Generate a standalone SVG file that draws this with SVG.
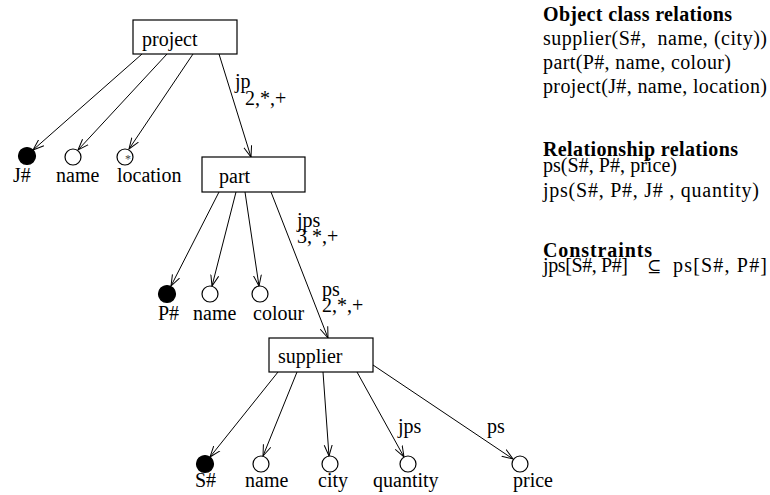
<svg xmlns="http://www.w3.org/2000/svg" width="770" height="495" viewBox="0 0 770 495" font-family="'Liberation Serif', 'DejaVu Serif', 'Times New Roman', serif" font-size="20">
  <style>
    text { font-family: 'Liberation Serif', 'Times New Roman', serif; font-size: 20px; fill: #000; }
    .b { font-weight: bold; }
    .box { fill: #fff; stroke: #000; stroke-width: 1.2; }
    .attr { fill: #fff; stroke: #000; stroke-width: 1.2; }
    .key { fill: #000; stroke: #000; stroke-width: 1.2; }
    .edge { stroke: #000; stroke-width: 1; fill: none; marker-end: url(#arrow); }
  </style>
  <defs>
    <marker id="arrow" markerWidth="12" markerHeight="10" refX="11" refY="5" orient="auto" markerUnits="userSpaceOnUse">
      <path d="M0,1 L11,5 L0,9" fill="none" stroke="#000" stroke-width="1"/>
    </marker>
  </defs>

  <rect width="770" height="495" fill="#fff"/>

  <!-- connectors -->
  <g id="connectors">
    <line class="edge" x1="142" y1="54" x2="33" y2="150"/>
    <line class="edge" x1="167" y1="54" x2="78" y2="150"/>
    <line class="edge" x1="193" y1="54" x2="129" y2="149"/>
    <line class="edge" x1="219" y1="54" x2="251" y2="157"/>

    <line class="edge" x1="219" y1="192" x2="171" y2="286"/>
    <line class="edge" x1="236" y1="192" x2="212" y2="286"/>
    <line class="edge" x1="245" y1="192" x2="259" y2="286"/>
    <line class="edge" x1="271" y1="192" x2="328" y2="338"/>

    <line class="edge" x1="278" y1="372" x2="210" y2="457"/>
    <line class="edge" x1="297" y1="372" x2="263" y2="456"/>
    <line class="edge" x1="323" y1="372" x2="329" y2="456"/>
    <line class="edge" x1="357" y1="372" x2="404" y2="457"/>
    <line class="edge" x1="373" y1="365" x2="513" y2="459"/>

    <text x="235" y="88">jp</text>
    <text x="245" y="105">2,*,+</text>
    <text x="297" y="227">jps</text>
    <text x="297" y="243">3,*,+</text>
    <text x="322" y="296">ps</text>
    <text x="322" y="312">2,*,+</text>
    <text x="398" y="433">jps</text>
    <text x="487" y="433">ps</text>
  </g>

  <!-- entity nodes -->
  <g id="project">
    <rect class="box" x="133" y="20" width="104" height="34"/>
    <text x="142" y="46">project</text>
  </g>
  <g id="part">
    <rect class="box" x="202" y="157" width="103" height="35"/>
    <text x="219" y="183">part</text>
  </g>
  <g id="supplier">
    <rect class="box" x="269" y="338" width="104" height="34"/>
    <text x="278" y="363">supplier</text>
  </g>

  <!-- project attributes -->
  <g id="project-jno">
    <circle class="key" cx="27" cy="156" r="8.5"/>
    <text x="13" y="182">J#</text>
  </g>
  <g id="project-name">
    <circle class="attr" cx="73" cy="157" r="8"/>
    <text x="56" y="182">name</text>
  </g>
  <g id="project-location">
    <circle class="attr" cx="125" cy="157" r="8"/>
    <text x="125" y="163" style="font-size:12px; fill:#444">*</text>
    <text x="117" y="182">location</text>
  </g>

  <!-- part attributes -->
  <g id="part-pno">
    <circle class="key" cx="167" cy="294" r="8.5"/>
    <text x="158" y="320">P#</text>
  </g>
  <g id="part-name">
    <circle class="attr" cx="210" cy="294" r="8"/>
    <text x="193" y="320">name</text>
  </g>
  <g id="part-colour">
    <circle class="attr" cx="260" cy="294" r="8"/>
    <text x="253" y="320">colour</text>
  </g>

  <!-- supplier attributes -->
  <g id="supplier-sno">
    <circle class="key" cx="205" cy="464" r="8.5"/>
    <text x="195" y="487">S#</text>
  </g>
  <g id="supplier-name">
    <circle class="attr" cx="261" cy="464" r="8"/>
    <text x="245" y="487">name</text>
  </g>
  <g id="supplier-city">
    <circle class="attr" cx="330" cy="464" r="8"/>
    <text x="318" y="487">city</text>
  </g>
  <g id="supplier-quantity">
    <circle class="attr" cx="408" cy="464" r="8"/>
    <text x="373" y="487">quantity</text>
  </g>
  <g id="supplier-price">
    <circle class="attr" cx="520" cy="464" r="8"/>
    <text x="513" y="487">price</text>
  </g>

  <!-- relation schema listing -->
  <g id="legend">
    <text class="b" x="543" y="21" textLength="189">Object class relations</text>
    <text x="543" y="45" textLength="224" xml:space="preserve">supplier(S#,  name, (city))</text>
    <text x="543" y="69" textLength="188">part(P#, name, colour)</text>
    <text x="543" y="93" textLength="224">project(J#, name, location)</text>

    <text class="b" x="543" y="156" textLength="195">Relationship relations</text>
    <text x="543" y="172" textLength="134">ps(S#, P#, price)</text>
    <text x="543" y="197" textLength="216">jps(S#, P#, J# , quantity)</text>

    <text class="b" x="543" y="257" textLength="109">Constraints</text>
    <text x="543" y="272" textLength="85">jps[S#, P#]</text>
    <text x="647" y="272" style="font-family:'DejaVu Serif', serif; font-size:17px">⊆</text>
    <text x="673" y="272" textLength="94">ps[S#, P#]</text>
  </g>
</svg>
